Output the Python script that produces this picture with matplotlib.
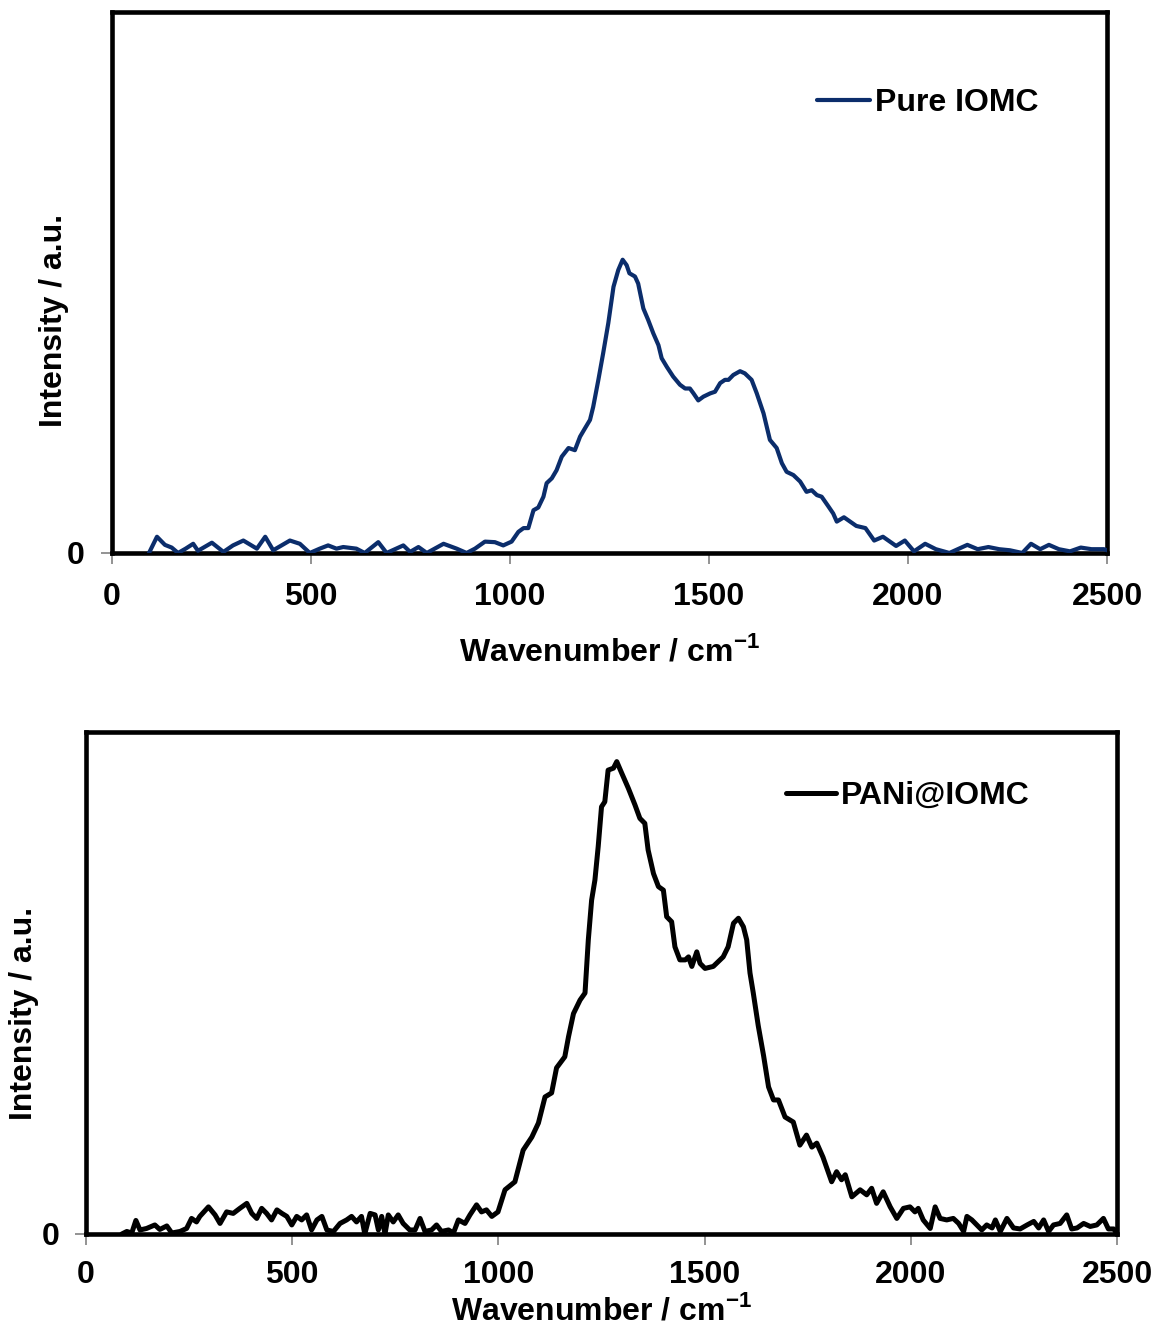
import matplotlib
matplotlib.use("Agg")
import matplotlib.pyplot as plt

# ---------------- data ----------------
top_wn = [93, 113, 133, 150, 166, 185, 204, 216, 251, 280,
          304, 330, 364, 385, 405, 447, 472, 497, 522, 543,
          564, 581, 614, 635, 669, 690, 732, 749, 770, 791,
          833, 866, 891, 912, 937, 962, 983, 1004, 1021, 1034,
          1046, 1059, 1071, 1084, 1092, 1105, 1117, 1130, 1147, 1163,
          1176, 1188, 1201, 1209, 1222, 1234, 1247, 1260, 1272, 1283,
          1293, 1300, 1314, 1322, 1335, 1347, 1360, 1373, 1381, 1394,
          1410, 1427, 1440, 1452, 1461, 1473, 1486, 1503, 1515, 1528,
          1540, 1549, 1561, 1578, 1590, 1607, 1620, 1637, 1653, 1670,
          1683, 1695, 1712, 1729, 1745, 1758, 1771, 1783, 1800, 1812,
          1821, 1839, 1870, 1893, 1915, 1937, 1970, 1992, 2015, 2043,
          2070, 2104, 2149, 2175, 2202, 2229, 2256, 2287, 2309, 2332,
          2354, 2379, 2407, 2434, 2461, 2492, 2500]
top_val = [0, 3.0, 1.5, 1.0, 0, 0.8, 1.7, 0.4, 1.9, 0.2,
           1.4, 2.3, 0.8, 3.0, 0.5, 2.3, 1.7, 0, 0.8, 1.4,
           0.8, 1.1, 0.8, 0, 2.0, 0, 1.4, 0.2, 1.1, 0,
           1.7, 0.8, 0, 0.8, 2.1, 2.0, 1.4, 2.1, 3.9, 4.6,
           4.6, 7.9, 8.4, 10.4, 12.9, 13.8, 15.3, 17.8, 19.4, 19.0,
           21.5, 23.0, 24.6, 27.0, 32.0, 36.9, 42.5, 49.2, 52.3, 54.2,
           53.2, 51.7, 51.1, 49.8, 45.2, 43.1, 40.6, 38.4, 36.0, 34.4,
           32.6, 31.1, 30.4, 30.4, 29.5, 28.2, 28.9, 29.5, 29.8, 31.4,
           32.0, 32.0, 32.9, 33.6, 33.2, 32.0, 29.5, 25.8, 20.9, 19.4,
           16.6, 15.0, 14.4, 13.2, 11.3, 11.6, 10.7, 10.4, 8.6, 7.3,
           5.8, 6.6, 5.0, 4.6, 2.3, 3.0, 1.3, 2.3, 0.3, 1.7,
           0.7, 0, 1.5, 0.7, 1.1, 0.7, 0.5, 0, 1.7, 0.7,
           1.5, 0.7, 0.3, 1.0, 0.7, 0.7, 0.5]

bot_wn = [87, 99, 111, 121, 131, 147, 167, 179, 196, 208,
          228, 244, 256, 268, 276, 297, 313, 325, 341, 357,
          373, 390, 402, 414, 426, 438, 450, 463, 475, 487,
          499, 511, 523, 535, 547, 560, 572, 584, 600, 616,
          632, 644, 656, 668, 676, 689, 701, 709, 717, 725,
          733, 745, 757, 769, 785, 798, 810, 822, 838, 850,
          862, 879, 891, 903, 919, 931, 947, 959, 971, 984,
          999, 1016, 1040, 1060, 1081, 1097, 1113, 1129, 1141, 1161,
          1170, 1182, 1198, 1210, 1218, 1226, 1234, 1242, 1250, 1258,
          1266, 1279, 1287, 1299, 1315, 1331, 1343, 1355, 1363, 1376,
          1388, 1400, 1408, 1420, 1428, 1440, 1453, 1461, 1469, 1481,
          1489, 1501, 1521, 1545, 1557, 1570, 1582, 1594, 1602, 1610,
          1618, 1630, 1643, 1655, 1667, 1679, 1695, 1715, 1731, 1747,
          1760, 1772, 1787, 1808, 1820, 1832, 1841, 1857, 1877, 1893,
          1905, 1917, 1933, 1950, 1966, 1982, 1998, 2010, 2018, 2030,
          2047, 2059, 2071, 2087, 2103, 2116, 2128, 2136, 2148, 2160,
          2172, 2184, 2197, 2205, 2217, 2233, 2249, 2265, 2282, 2298,
          2310, 2322, 2334, 2346, 2362, 2378, 2390, 2403, 2419, 2435,
          2451, 2467, 2479, 2492, 2500]
bot_val = [0, 0.5, 0.2, 2.7, 0.8, 1.1, 1.8, 0.9, 1.6, 0.2,
           0.5, 1.1, 3.1, 2.4, 3.5, 5.4, 3.8, 2.1, 4.4, 4.1,
           5.1, 6.1, 4.1, 3.1, 5.1, 4.1, 2.8, 4.8, 4.1, 3.5,
           1.8, 3.5, 2.8, 3.8, 0.8, 2.8, 3.5, 0.8, 0.5, 2.1,
           2.8, 3.5, 2.4, 3.5, 0, 4.1, 3.8, 0.8, 3.5, 0,
           3.8, 2.4, 3.8, 2.1, 0.8, 0.8, 3.1, 0.5, 0.8, 1.8,
           0.5, 0.8, 0.2, 2.8, 2.1, 3.8, 5.8, 4.4, 4.8, 3.5,
           4.4, 8.8, 10.4, 16.7, 19.3, 22.1, 27.3, 28.1, 33.1, 35.3,
           39.3, 43.9, 46.6, 48.0, 58.6, 66.5, 70.5, 77.2, 85.1, 86.1,
           92.4, 92.8, 94.1, 91.8, 88.8, 85.5, 82.8, 81.8, 76.5, 71.8,
           69.2, 68.5, 63.2, 62.2, 57.2, 54.6, 54.6, 55.2, 53.3, 56.2,
           53.9, 52.9, 53.3, 55.2, 57.2, 61.9, 62.9, 61.2, 58.6, 52.0,
           48.0, 41.5, 35.5, 29.3, 26.7, 26.7, 23.3, 22.3, 17.7, 19.7,
           17.3, 18.1, 15.3, 10.4, 12.4, 10.8, 11.8, 7.4, 8.8, 7.8,
           9.1, 6.1, 8.4, 5.4, 3.1, 5.1, 5.4, 4.4, 5.1, 2.8,
           1.1, 5.4, 3.1, 2.8, 3.1, 2.1, 0.5, 3.5, 2.8, 1.8,
           0.8, 1.8, 1.2, 2.8, 0.5, 3.1, 1.2, 1.0, 1.8, 2.5,
           1.2, 2.8, 0.5, 1.8, 2.1, 3.8, 1.0, 1.2, 2.1, 1.5,
           1.8, 3.1, 1.0, 1.0, 0]

x_ticks = [0, 500, 1000, 1500, 2000, 2500]
y_ticks = [0]
top_label = "Pure IOMC"
bot_label = "PANi@IOMC"
x_title = r"Wavenumber / cm$^{\mathbf{-1}}$"
y_title = "Intensity / a.u."

# ---------------- style ----------------
plt.rcParams['font.family'] = ['Liberation Sans', 'DejaVu Sans']
plt.rcParams['font.weight'] = 'bold'
plt.rcParams['mathtext.fontset'] = 'custom'
plt.rcParams['mathtext.rm'] = 'Liberation Sans:bold'
plt.rcParams['mathtext.bf'] = 'Liberation Sans:bold'

FS = 23
fig = plt.figure(figsize=(11.51, 13.28), dpi=100)

ax1 = fig.add_axes([0.0973, 0.5836, 0.8645, 0.4074])
ax2 = fig.add_axes([0.0747, 0.0708, 0.8958, 0.3780])


def style(ax, xlab_y, ylab_x, ylab_y, xpad, ypad):
    ax.set_xlim(0, 2500)
    ax.set_ylim(0, 100)
    ax.set_xticks(x_ticks)
    ax.set_yticks(y_ticks)
    ax.set_xticklabels([str(t) for t in x_ticks], fontsize=FS, fontweight='bold')
    ax.set_yticklabels([str(t) for t in y_ticks], fontsize=FS, fontweight='bold')
    ax.tick_params(axis='x', direction='out', length=8, width=1.3, color='#8a8a8a', pad=xpad)
    ax.tick_params(axis='y', direction='out', length=8, width=1.3, color='#8a8a8a', pad=ypad)
    for s in ax.spines.values():
        s.set_linewidth(3.3)
        s.set_color('black')
    ax.set_xlabel(x_title, fontsize=FS, fontweight='bold')
    ax.xaxis.set_label_coords(0.50, xlab_y)
    ax.xaxis.label.set_verticalalignment('center')
    ax.set_ylabel(y_title, fontsize=FS, fontweight='bold')
    ax.yaxis.set_label_coords(ylab_x, ylab_y)
    ax.yaxis.label.set_verticalalignment('center')


ax1.plot(top_wn, top_val, color='#0b2d6b', lw=3.0, label=top_label,
         solid_joinstyle='round', solid_capstyle='round', zorder=3)
style(ax1, -0.183, -0.058, 0.43, 13, 12)
ax1.legend(loc='center left', bbox_to_anchor=(0.709, 0.832), frameon=False,
           prop={'family': 'Liberation Sans', 'weight': 'bold', 'size': FS},
           handlelength=1.65, handletextpad=0.15, borderpad=0, borderaxespad=0)

ax2.plot(bot_wn, bot_val, color='black', lw=3.6, label=bot_label,
         solid_joinstyle='round', solid_capstyle='round', zorder=3)
style(ax2, -0.152, -0.060, 0.44, 11, 11)
ax2.legend(loc='center left', bbox_to_anchor=(0.679, 0.873), frameon=False,
           prop={'family': 'Liberation Sans', 'weight': 'bold', 'size': FS},
           handlelength=1.55, handletextpad=0.15, borderpad=0, borderaxespad=0)

fig.savefig("out.png", dpi=100, facecolor='white')
